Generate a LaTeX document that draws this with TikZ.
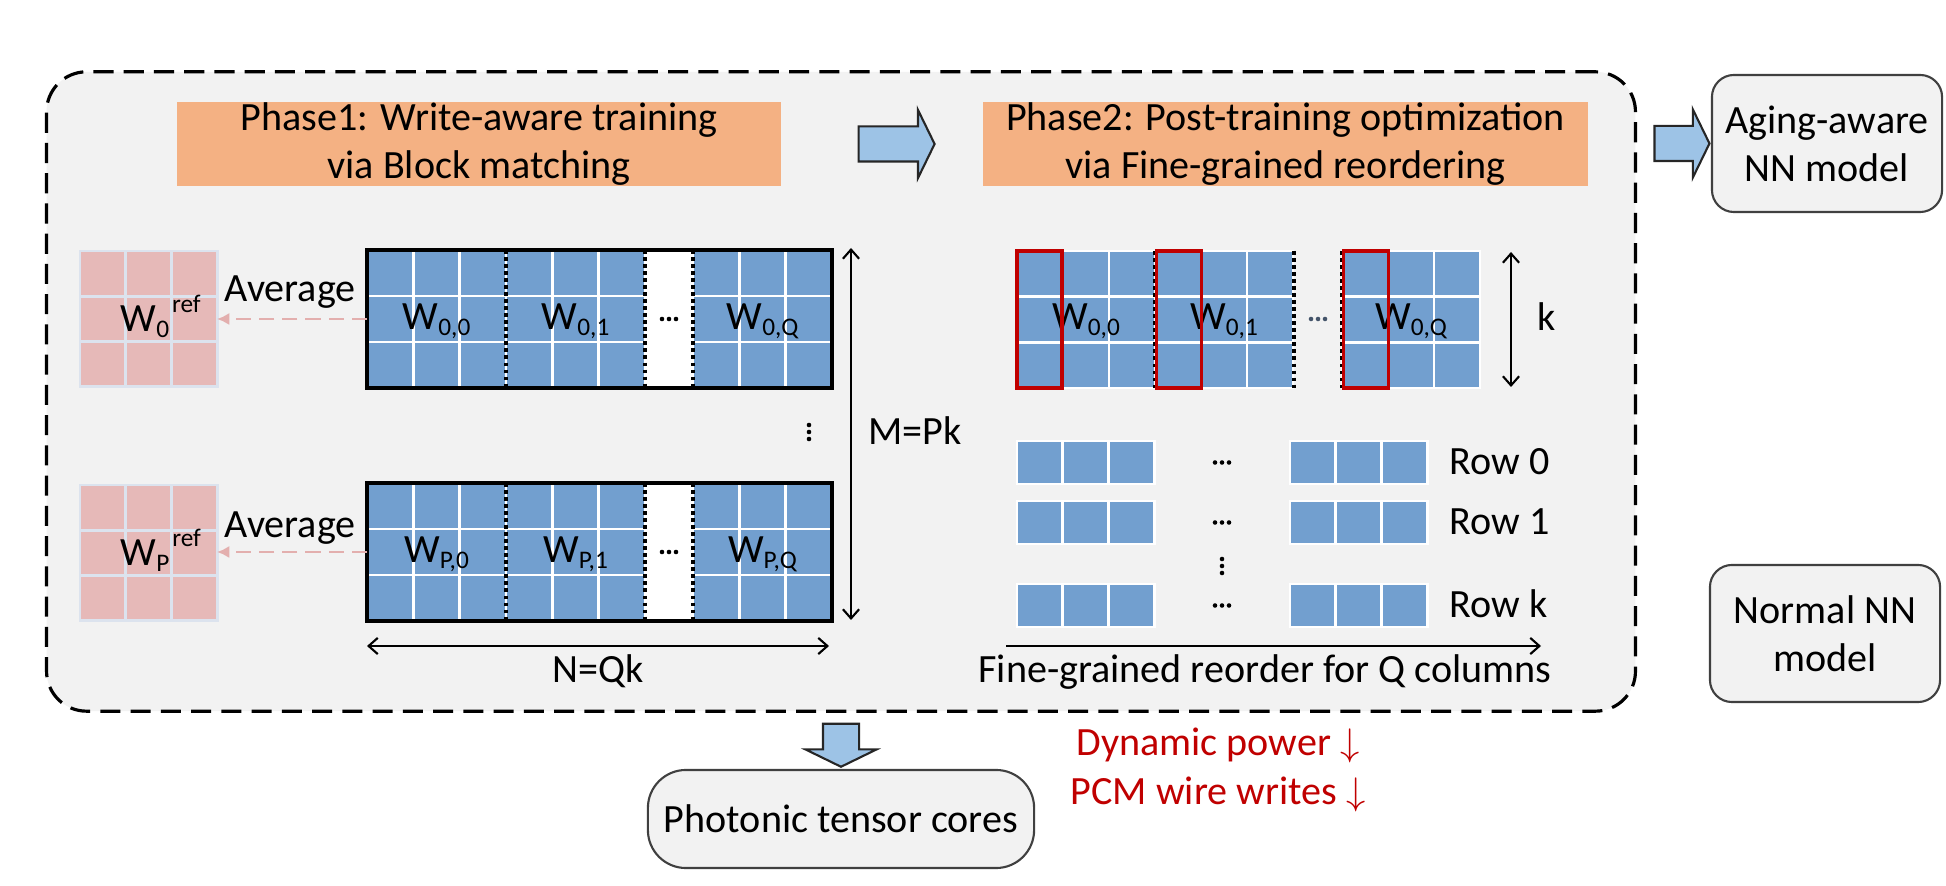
\documentclass[tikz,border=0pt]{standalone}
\usepackage{fontspec}
\setmainfont{Carlito}
\usetikzlibrary{arrows.meta,shapes.arrows,calc}

\definecolor{bggray}{HTML}{F2F2F2}
\definecolor{phaseorange}{HTML}{F4B183}
\definecolor{cellblue}{HTML}{729FCF}
\definecolor{cellpink}{HTML}{E6B9B8}
\definecolor{pinkline}{HTML}{DCE3EE}
\definecolor{avgpink}{HTML}{E3AFAE}
\definecolor{arrowblue}{HTML}{9DC3E6}
\definecolor{darkred}{HTML}{C00000}
\definecolor{dotgray}{HTML}{44546A}

\newcommand{\mainsz}{\fontsize{11.4}{13.7}\selectfont}
\newcommand{\wsub}[1]{\raisebox{-1.7pt}{\fontsize{7.2}{8}\selectfont #1}}
\newcommand{\wsup}[1]{\kern0.8pt\raisebox{5.5pt}{\fontsize{7.2}{8}\selectfont #1}}
\newcommand{\hdotsat}[2][black]{\foreach \dd in {-7,0,7}{\fill[#1] (#2) ++(\dd,0) circle (0.65pt);}}
\newcommand{\vdotsat}[2][black]{\foreach \dd in {-7,0,7}{\fill[#1] (#2) ++(0,\dd) circle (0.65pt);}}

\begin{document}
\begin{tikzpicture}[
        x=0.01cm, y=-0.01cm,
        every node/.style={font=\mainsz},
        frame/.style={draw, line width=0.9pt, dash pattern=on 5.7pt off 2.9pt, fill=bggray,
            rounded corners=0.4cm, minimum width=15.88cm, minimum height=6.39cm, inner sep=0},
        phase/.style={fill=phaseorange, minimum width=6.04cm, minimum height=0.84cm, align=center, inner sep=0},
        modelbox/.style={draw=black!75, line width=0.6pt, fill=bggray, rounded corners=0.22cm,
            minimum width=2.3cm, minimum height=1.37cm, align=center, inner sep=0},
        bigarrow/.style={single arrow, draw=black!85, line width=0.6pt, fill=arrowblue, inner xsep=0,
            inner ysep=0.165cm, single arrow head extend=0.165cm, single arrow tip angle=128},
        bluecell/.style={fill=cellblue, draw=white, line width=0.8pt},
        pinkcell/.style={fill=cellpink, draw=pinkline, line width=0.8pt},
        redcol/.style={draw=darkred, line width=0.9pt},
        blockframe/.style={draw=black, line width=1pt},
        sep/.style={line width=0.9pt, dash pattern=on 1.1pt off 0.9pt},
        dimarrow/.style={line width=0.6pt, >={Straight Barb[length=2.6pt,width=4.6pt]}},
        avgarrow/.style={draw=avgpink, line width=0.7pt, dash pattern=on 4.3pt off 2.3pt,
            -{Latex[length=3.5pt,width=3.5pt]}},
        wlabel/.style={anchor=base, inner sep=0},
        sidelabel/.style={anchor=base west, inner sep=0},
    ]
    \useasboundingbox (0,0) rectangle (1946,886);

    % frame, phases and models
    \node[frame] (frame) at (841,391.5) {};
    \node[phase] (phaseone) at (479,144) {Phase1: Write-aware training\\via Block matching};
    \node[phase] (phasetwo) at (1285.5,144) {Phase2: Post-training optimization\\via Fine-grained reordering};
    \node[modelbox] (aging) at (1827,143.5) {Aging-aware\\NN model};
    \node[modelbox] (normal) at (1825,633.5) {Normal NN\\model};
    \node[modelbox, minimum width=3.86cm, minimum height=0.98cm, rounded corners=0.38cm] (photonic) at (841,819) {Photonic tensor cores};

    \node[bigarrow, minimum height=0.76cm] (arrone) at ($(phaseone.east)!0.55!(phasetwo.west)$) {};
    \node[bigarrow, minimum height=0.55cm] (arrtwo) at ($(frame.east |- aging.west)!0.55!(aging.west)$) {};
    \node[bigarrow, rotate=-90, minimum height=0.43cm, inner ysep=0.17cm, single arrow head extend=0.175cm]
        (arrdown) at ($(frame.south)!0.5!(photonic.north)$) {};

    \node[text=darkred, align=center] (gain) at (1218,770) {Dynamic power $\downarrow$\\PCM wire writes $\downarrow$};

    % reference blocks
    \foreach \y/\rw in {251/0,485/P}{
        \foreach \i in {0,1,2}
            \foreach \j in {0,1,2}
                \path[pinkcell] (80+\i*45.7,\y+\j*45.3) rectangle ++(45.7,45.3);
        \node[sidelabel] at (120,\y+81) {W\wsub{\rw}\wsup{ref}};
    }

    % weight matrix, block matching
    \foreach \y/\rw in {250/0,483/P}{
        \foreach \bx/\bk in {367/0,506/1,693/Q}{
            \foreach \i in {0,1,2}
                \foreach \j in {0,1,2}
                    \path[bluecell] (\bx+\i*46.33,\y+\j*46) rectangle ++(46.33,46);
            \node[wlabel] at (\bx+69.5,\y+80) {W\wsub{\rw,\bk}};
        }
        \fill[white] (645,\y) rectangle (693,\y+138);
        \draw[sep] (506,\y) -- (506,\y+138) (645,\y) -- (645,\y+138) (693,\y) -- (693,\y+138);
        \draw[blockframe] (367,\y) rectangle (832,\y+138);
        \hdotsat{669,\y+69}
    }
    \vdotsat{809,432}

    \coordinate (blkzero) at (367,319);
    \coordinate (refzero) at (217,319);
    \coordinate (blkp) at (367,552);
    \coordinate (refp) at (217,552);
    \draw[avgarrow] (blkzero) -- (refzero);
    \draw[avgarrow] (blkp) -- (refp);
    \node[wlabel] (avgzero) at (290,302) {Average};
    \node[wlabel] (avgp) at (290,538) {Average};

    \coordinate (ncolL) at (367,646);
    \coordinate (ncolR) at (829,646);
    \draw[dimarrow, <->] (ncolL) -- (ncolR);
    \node[wlabel] (nlabel) at (598,683) {N=Qk};
    \coordinate (mrowT) at (851,248);
    \coordinate (mrowB) at (851,620);
    \draw[dimarrow, <->] (mrowT) -- (mrowB);
    \node[sidelabel] (mlabel) at (868,445) {M=Pk};

    % fine-grained reordering
    \foreach \bx/\bk in {1017/0,1155/1,1342/Q}{
        \foreach \i in {0,1,2}
            \foreach \j in {0,1,2}
                \path[bluecell] (\bx+\i*46,251+\j*45.67) rectangle ++(46,45.67);
        \node[wlabel] at (\bx+69,330) {W\wsub{0,\bk}};
    }
    \draw[sep] (1155,251) -- (1155,388) (1294,251) -- (1294,388) (1342,251) -- (1342,388);
    \foreach \bx in {1017,1156.5,1343.5}
        \draw[redcol] (\bx,251) rectangle (\bx+45,388);
    \hdotsat[dotgray]{1318,319}

    \coordinate (kT) at (1511,252);
    \coordinate (kB) at (1511,387);
    \draw[dimarrow, <->] (kT) -- (kB);
    \node[sidelabel] (klabel) at (1537,331) {k};

    \foreach \y/\rk in {441/0,501/1,584/k}{
        \foreach \bx in {1017,1290}
            \foreach \i in {0,1,2}
                \path[bluecell] (\bx+\i*45.7,\y) rectangle ++(45.7,43);
        \hdotsat{1222,\y+21.5}
        \node[sidelabel] at (1449,\y+34) {Row \rk};
    }
    \vdotsat{1222,566}

    \coordinate (qcolL) at (1006,646);
    \coordinate (qcolR) at (1541,646);
    \draw[dimarrow, ->] (qcolL) -- (qcolR);
    \node[wlabel] (qlabel) at (1265,683) {Fine-grained reorder for Q columns};
\end{tikzpicture}
\end{document}
